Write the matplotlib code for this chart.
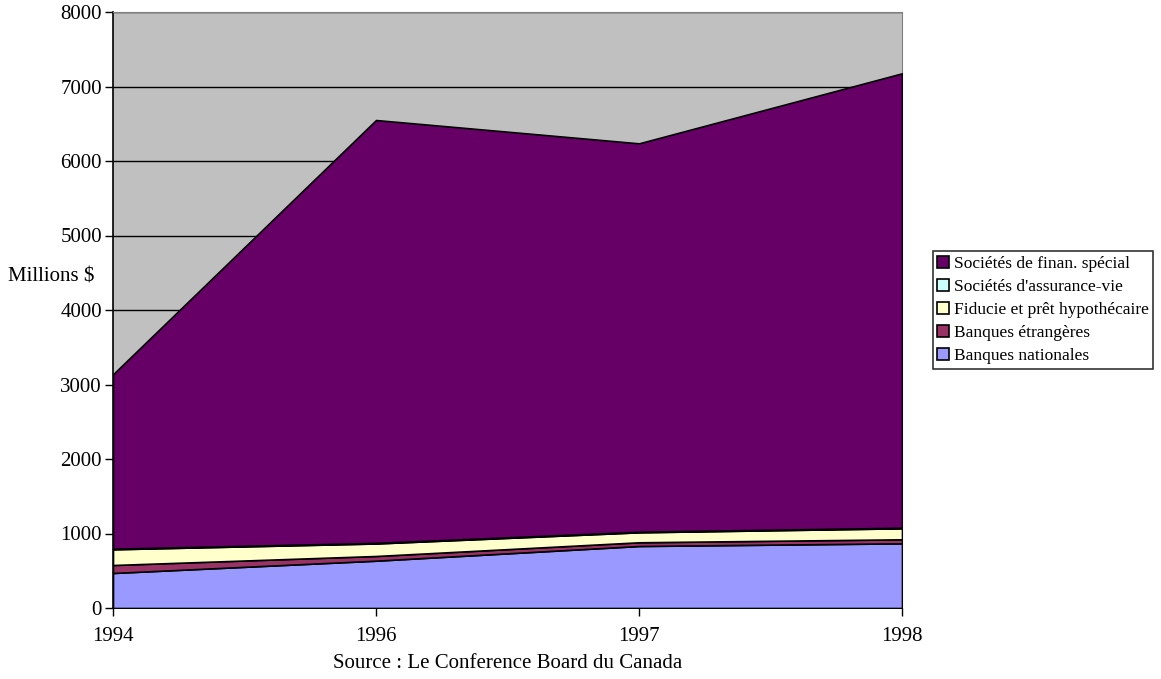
import matplotlib.pyplot as plt
import numpy as np

years = ["1994", "1996", "1997", "1998"]
nationales = [470, 635, 832, 868]
etrangeres = [107, 63, 50, 54]
fiducie = [211, 168, 134, 148]
assurance_vie = [8, 8, 8, 8]
finan_special = [2341, 5676, 5213, 6099]

series = [nationales, etrangeres, fiducie, assurance_vie, finan_special]
labels = ["Banques nationales", "Banques étrangères", "Fiducie et prêt hypothécaire",
          "Sociétés d'assurance-vie", "Sociétés de finan. spécial"]
colors = ["#9999FF", "#993366", "#FFFFCC", "#CCFFFF", "#660066"]

plt.rcParams['font.family'] = ['Liberation Serif', 'DejaVu Serif']

fig = plt.figure(figsize=(11.61, 6.79), dpi=100)
ax = fig.add_axes([113 / 1161, 71 / 679, 789 / 1161, 596 / 679])
ax.set_facecolor("#C0C0C0")

x = np.arange(len(years))
ax.stackplot(x, *series, colors=colors, labels=labels,
             edgecolor="black", linewidth=1.2, zorder=3)

ax.set_xlim(0, len(years) - 1)
ax.set_ylim(0, 8000)
ax.set_yticks(range(0, 8001, 1000))
ax.set_xticks(x)
ax.set_xticklabels(years)
ax.yaxis.grid(True, color="black", linewidth=1, zorder=1)
ax.set_axisbelow(True)
ax.tick_params(axis="both", direction="out", length=6, width=1, labelsize=15,
               colors="black")
ax.tick_params(axis="y", pad=2)
ax.tick_params(axis="x", pad=8)
for name in ["top", "right"]:
    ax.spines[name].set_color("#808080")
for name in ["left", "bottom"]:
    ax.spines[name].set_linewidth(1.2)

fig.text(8 / 1161, 1 - 277 / 679, "Millions $", fontsize=15, ha="left", va="center")
fig.text(508 / 1161, 1 - 663 / 679, "Source : Le Conference Board du Canada",
         fontsize=15, ha="center", va="center")

# legend listed top-down, opposite of the stacking order
handles, labs = ax.get_legend_handles_labels()
leg = fig.legend(handles[::-1], labs[::-1], loc="center left",
                 bbox_to_anchor=(933 / 1161, 1 - 310 / 679), fontsize=12.5,
                 frameon=True, fancybox=False, edgecolor="black",
                 handlelength=0.7, handleheight=0.7, handletextpad=0.25,
                 labelspacing=0.4, borderpad=0.25, borderaxespad=0)
leg.get_frame().set_linewidth(1.2)

plt.savefig("out.png", dpi=100)
